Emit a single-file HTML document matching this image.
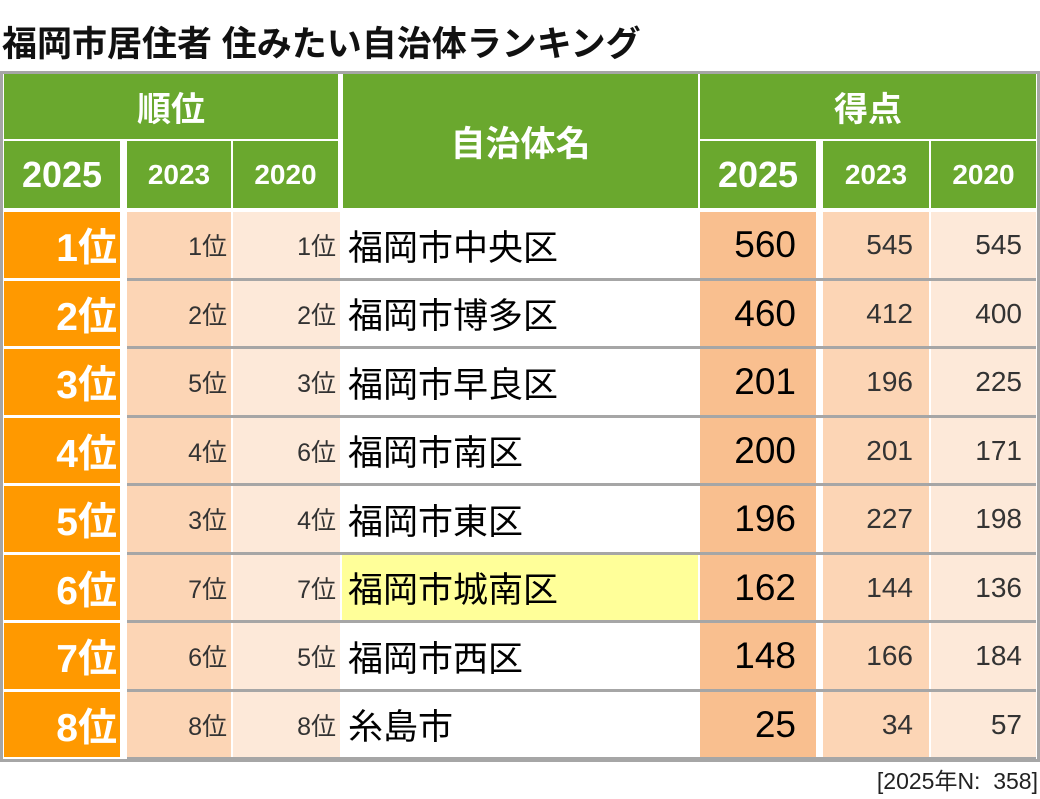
<!DOCTYPE html>
<html><head><meta charset="utf-8">
<style>
body{margin:0;width:1040px;height:799px;background:#fff;position:relative;overflow:hidden;font-family:"Liberation Sans","Noto Sans CJK JP",sans-serif;}
.c{position:absolute;box-sizing:border-box;display:flex;align-items:center;white-space:nowrap;}
.h{background:#6aa82e;color:#fff;font-weight:bold;justify-content:center;}
</style></head><body>
<div class="c" style="left:2px;top:16px;height:50px;font-size:35px;font-weight:bold;letter-spacing:0px;color:#111;">福岡市居住者 住みたい自治体ランキング</div>
<div style="position:absolute;left:0;top:71px;width:1040px;height:691px;background:#a6a6a6;"></div>
<div style="position:absolute;left:3px;top:74px;width:1034px;height:685px;background:#fff;"></div>
<div class="c h" style="left:4px;top:74px;width:334px;height:65px;font-size:34px;">順位</div>
<div class="c h" style="left:343px;top:74px;width:355px;height:134px;font-size:35px;">自治体名</div>
<div class="c h" style="left:700px;top:74px;width:336px;height:65px;font-size:34px;">得点</div>
<div class="c h" style="left:4px;top:141px;width:116px;height:67px;font-size:36px;">2025</div>
<div class="c h" style="left:127px;top:141px;width:104px;height:67px;font-size:28px;">2023</div>
<div class="c h" style="left:233px;top:141px;width:105px;height:67px;font-size:28px;">2020</div>
<div class="c h" style="left:700px;top:141px;width:116px;height:67px;font-size:36px;">2025</div>
<div class="c h" style="left:823px;top:141px;width:106px;height:67px;font-size:28px;">2023</div>
<div class="c h" style="left:931px;top:141px;width:105px;height:67px;font-size:28px;">2020</div>
<div id="rows"></div>
<div class="c" style="right:2px;top:764px;height:30px;font-size:23px;color:#222;">[2025年N:&nbsp;&nbsp;358]</div>
<script>
const ranks2025=["1位","2位","3位","4位","5位","6位","7位","8位"];
const ranks2023=["1位","2位","5位","4位","3位","7位","6位","8位"];
const ranks2020=["1位","2位","3位","6位","4位","7位","5位","8位"];
const names=["福岡市中央区","福岡市博多区","福岡市早良区","福岡市南区","福岡市東区","福岡市城南区","福岡市西区","糸島市"];
const scores2025=[560,460,201,200,196,162,148,25];
const scores2023=[545,412,196,201,227,144,166,34];
const scores2020=[545,400,225,171,198,136,184,57];
const highlight="福岡市城南区";
const root=document.getElementById('rows');
const top0=212, pitch=68.5;
function cell(l,t,w,h,bg,txt,fs,col,bold,just,pr,name){
  const d=document.createElement('div');
  d.className='c';
  
  
  d.style.cssText=`left:${l}px;top:${t}px;width:${w}px;height:${h}px;background:${bg};font-size:${fs}px;color:${col};font-weight:${bold?'bold':'normal'};justify-content:${just};padding:0 ${pr}px 0 6px;`;
  d.textContent=txt;
  root.appendChild(d);
}
names.forEach((n,i)=>{
  const t=Math.round(top0+i*pitch);
  const h=Math.round(top0+(i+1)*pitch)-t-3;
  const g=document.createElement('div');
  
  
  g.style.cssText=`position:absolute;left:127px;top:${t+h}px;width:909px;height:3px;background:#a6a6a6;`;
  root.appendChild(g);
  cell(4,t,116,h,'#ff9900',ranks2025[i],39,'#fff',true,'flex-end',3,'rank-2025');
  cell(127,t,104,h,'#fcd5b5',ranks2023[i],25,'#333',false,'flex-end',4,'rank-2023');
  cell(233,t,107,h,'#fde9d9',ranks2020[i],25,'#333',false,'flex-end',4,'rank-2020');
  cell(342,t,356,h,n===highlight?'#ffff99':'#fff',n,35,'#000',false,'flex-start',0,'municipality-name');
  cell(700,t,116,h,'#f9bf8f',String(scores2025[i]),37,'#000',false,'flex-end',20,'score-2025');
  cell(823,t,106,h,'#fcd5b5',String(scores2023[i]),28,'#333',false,'flex-end',16,'score-2023');
  cell(931,t,105,h,'#fde9d9',String(scores2020[i]),28,'#333',false,'flex-end',14,'score-2020');
});
</script>
</body></html>
